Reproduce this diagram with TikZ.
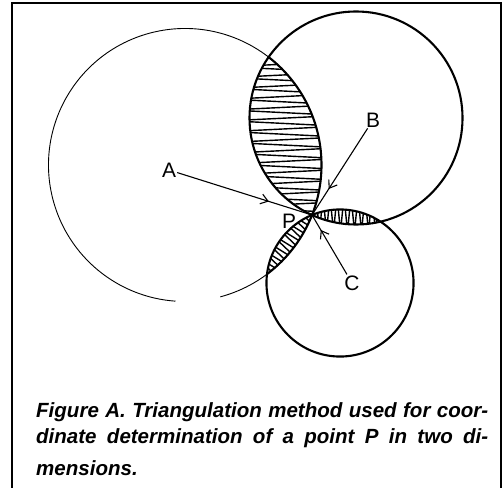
\documentclass[tikz,border=0pt]{standalone}
\usepackage{fontspec}
\setmainfont{Liberation Sans}
\usetikzlibrary{arrows.meta,decorations.markings}
\begin{document}
\begin{tikzpicture}[x=1bp,y=-1bp,
  thickcirc/.style={line width=2.1bp},
  thincirc/.style={line width=0.9bp},
  hatch/.style={line width=1.4bp, line join=miter},
  lbl/.style={font=\fontsize{21}{24}\selectfont, inner sep=1bp},
  ptr/.style={line width=1.1bp, postaction={decorate},
    decoration={markings, mark=at position #1 with {\arrow{Straight Barb[length=7bp,width=10bp]}}}},
  captxt/.style={font=\fontsize{20.6}{24}\selectfont\bfseries\itshape, inner sep=0, anchor=base west}]
\useasboundingbox (0,0) rectangle (502,488);
\draw[line width=2bp] (11.5,3) rectangle (500.5,520);

\coordinate (cA) at (185,165);
\coordinate (cB) at (356,118);
\coordinate (cC) at (340,283);
\coordinate (P) at (312,215);
\def\rA{136.49bp}
\def\rB{106.51bp}
\def\rC{73.54bp}

% hatching A∩B
\begin{scope}
  \clip (cA) circle[radius=\rA];
  \clip (cB) circle[radius=\rB];
  \draw[hatch] plot[samples at={0,...,30}] ({230+110*mod(\x,2)}, {56+5.4*\x});
\end{scope}
% hatching B∩C
\begin{scope}
  \clip (cB) circle[radius=\rB];
  \clip (cC) circle[radius=\rC];
  \draw[hatch] plot[samples at={0,...,24}] ({309+3.5*\x}, {196+36*mod(\x,2)});
\end{scope}
% hatching A∩C
\begin{scope}
  \clip (cA) circle[radius=\rA];
  \clip (cC) circle[radius=\rC];
  \draw[hatch] plot[samples at={0,...,20}]
    ({312-0.611*(-5+4.5*\x)+0.792*(22*(2*mod(\x,2)-1))},
     {215+0.792*(-5+4.5*\x)+0.611*(22*(2*mod(\x,2)-1))});
\end{scope}

% circle A: thin, with a gap at the bottom
\draw[thincirc] ([shift={(-75:\rA)}]cA) arc[start angle=-75, end angle=266, radius=\rA];
% thick parts of A bounding the lenses
\begin{scope}
  \clip (cB) circle[radius=\rB];
  \draw[thickcirc] (cA) circle[radius=\rA];
\end{scope}
\begin{scope}
  \clip (cC) circle[radius=\rC];
  \draw[thickcirc] (cA) circle[radius=\rA];
\end{scope}
\draw[thickcirc] (cB) circle[radius=\rB];
\draw[thickcirc] (cC) circle[radius=\rC];

% labels and pointers
\node[lbl] (lA) at (169,170) {A};
\node[lbl] (lB) at (373,120) {B};
\node[lbl] (lC) at (352,283) {C};
\node[lbl] (lP) at (289,221) {P};
\draw[ptr=0.68] (lA) -- (P);
\draw[ptr=0.7] (lB) -- (P);
\draw[ptr=0.75] (lC) -- (P);

% caption
\node[captxt] (cap1) at (36,417) {\makebox[452bp][s]{Figure A. Triangulation method used for coor-}};
\node[captxt] (cap2) at (36,443) {\makebox[452bp][s]{dinate determination of a point P in two di-}};
\node[captxt] (cap3) at (36,475) {mensions.};
\end{tikzpicture}
\end{document}
